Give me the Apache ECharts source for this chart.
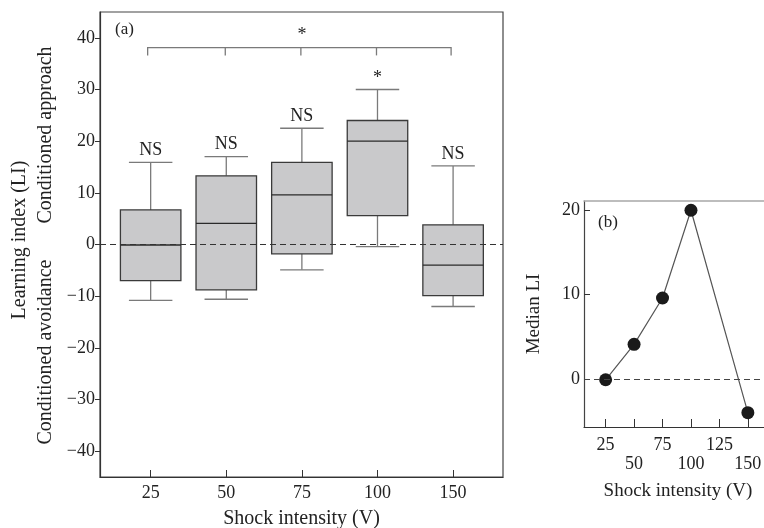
<!DOCTYPE html>
<html>
<head>
<meta charset="utf-8">
<script src="https://cdn.jsdelivr.net/npm/echarts@6/dist/echarts.min.js"></script>
<style>
  html, body { margin: 0; padding: 0; background: #fff; }
  #chart { width: 764px; height: 528px; }
</style>
</head>
<body>
<div id="chart"></div>
<script>
// Shock intensity groups (V)
const categories = ['25', '50', '75', '100', '150'];
const volts = [25, 50, 75, 100, 150];

// Learning index distribution per group
const whiskerLow  = [-10.8, -10.6, -4.9, -0.4, -12.0];
const q1          = [-7.0, -8.8, -1.8, 5.6, -9.9];
const median      = [-0.1, 4.1, 9.6, 20.0, -4.0];
const q3          = [6.7, 13.3, 15.9, 24.0, 3.8];
const whiskerHigh = [15.9, 17.0, 22.5, 30.0, 15.2];
const groupNotes  = ['NS', 'NS', 'NS', '*', 'NS'];

// Overall comparison bracket across groups
const bracketGroups = [0, 1, 2, 3, 4];
const bracketLevel = 38.1;
const bracketDrop = 36.6;
const bracketStarLevel = 40.8;

// Axis ticks
const liTicks = [-40, -30, -20, -10, 0, 10, 20, 30, 40];
const medianTicks = [0, 10, 20];
const voltTicksLow = [25, 75, 125];
const voltTicksHigh = [50, 100, 150];
const voltTicks = [25, 50, 75, 100, 125, 150];

const FONT = '"Liberation Serif", "Times New Roman", serif';
const INK = '#222';

const fmtMinus = v => (v < 0 ? '\u2212' + Math.abs(v) : String(v));

const boxData = categories.map((c, i) => [i, whiskerLow[i], q1[i], median[i], q3[i], whiskerHigh[i]]);

const chart = echarts.init(document.getElementById('chart'), null, { renderer: 'canvas' });

const option = {
  animation: false,
  backgroundColor: '#fff',
  textStyle: { fontFamily: FONT, color: INK },
  grid: [
    { left: 100, top: 12, width: 403, height: 465, outerBoundsMode: 'none', containLabel: false,
      show: true, borderColor: '#444', borderWidth: 1.2, backgroundColor: 'transparent' },
    { left: 584, top: 201, width: 198, height: 226, outerBoundsMode: 'none', containLabel: false }
  ],
  xAxis: [
    {
      gridIndex: 0, type: 'value', min: -0.67, max: 4.66,
      name: 'Shock intensity (V)', nameLocation: 'middle', nameGap: 32,
      nameTextStyle: { fontFamily: FONT, fontSize: 20, color: INK },
      axisLine: { onZero: false, lineStyle: { color: '#333', width: 1.2 } },
      axisTick: { inside: true, length: 7, customValues: [0, 1, 2, 3, 4], lineStyle: { color: '#333' } },
      axisLabel: { customValues: [0, 1, 2, 3, 4], formatter: v => categories[Math.round(v)], fontFamily: FONT, fontSize: 18, color: INK, margin: 7 },
      splitLine: { show: false }
    },
    {
      gridIndex: 1, type: 'value', min: 6, max: 180,
      name: 'Shock intensity (V)', nameLocation: 'middle', nameGap: 55,
      nameTextStyle: { fontFamily: FONT, fontSize: 19, color: INK, padding: [0, 10, 0, 0] },
      axisLine: { onZero: false, lineStyle: { color: '#333', width: 1.2 } },
      axisTick: { inside: true, length: 8, customValues: voltTicks, lineStyle: { color: '#333' } },
      axisLabel: { customValues: voltTicksLow, fontFamily: FONT, fontSize: 18, color: INK, margin: 9 },
      splitLine: { show: false }
    },
    {
      gridIndex: 1, type: 'value', min: 6, max: 180, position: 'bottom',
      axisLine: { show: false, onZero: false }, axisTick: { show: false },
      axisLabel: { customValues: voltTicksHigh, fontFamily: FONT, fontSize: 18, color: INK, margin: 28 },
      splitLine: { show: false }
    },
    {
      gridIndex: 1, type: 'value', min: 6, max: 180, position: 'top',
      axisLine: { onZero: false, lineStyle: { color: '#a8a8a8', width: 1.5 } },
      axisTick: { show: false }, axisLabel: { show: false }, splitLine: { show: false }
    }
  ],
  yAxis: [
    {
      gridIndex: 0, type: 'value', min: -45, max: 45,
      axisLine: { onZero: false, lineStyle: { color: '#333', width: 1.2 } },
      axisTick: { inside: false, length: 5, customValues: liTicks, lineStyle: { color: '#333' } },
      axisLabel: { customValues: liTicks, formatter: fmtMinus, fontFamily: FONT, fontSize: 18, color: INK, margin: 5 },
      splitLine: { show: false }
    },
    {
      gridIndex: 1, type: 'value', min: -5.7, max: 21.1,
      name: 'Median LI', nameLocation: 'middle', nameGap: 40,
      nameTextStyle: { fontFamily: FONT, fontSize: 19, color: INK },
      axisLine: { onZero: false, lineStyle: { color: '#444', width: 1.2 } },
      axisTick: { inside: true, length: 6, customValues: medianTicks, lineStyle: { color: '#333' } },
      axisLabel: { customValues: medianTicks, formatter: fmtMinus, fontFamily: FONT, fontSize: 18, color: INK, margin: 4 },
      splitLine: { show: false }
    }
  ],
  graphic: [
    { type: 'text', x: 20, y: 240, rotation: Math.PI / 2, z: 10,
      style: { text: 'Learning index (LI)', font: '20px ' + FONT, fill: INK, align: 'center', verticalAlign: 'middle' } },
    { type: 'text', x: 46, y: 135, rotation: Math.PI / 2, z: 10,
      style: { text: 'Conditioned approach', font: '20px ' + FONT, fill: INK, align: 'center', verticalAlign: 'middle' } },
    { type: 'text', x: 46, y: 352, rotation: Math.PI / 2, z: 10,
      style: { text: 'Conditioned avoidance', font: '20px ' + FONT, fill: INK, align: 'center', verticalAlign: 'middle' } },
    { type: 'text', x: 115, y: 30, z: 10,
      style: { text: '(a)', font: '17px ' + FONT, fill: INK, align: 'left', verticalAlign: 'middle' } },
    { type: 'text', x: 598, y: 223, z: 10,
      style: { text: '(b)', font: '17px ' + FONT, fill: INK, align: 'left', verticalAlign: 'middle' } }
  ],
  series: [
    {
      type: 'custom',
      xAxisIndex: 0, yAxisIndex: 0,
      data: boxData,
      renderItem: function (params, api) {
        const i = api.value(0);
        const lo = api.coord([i, api.value(1)]);
        const b1 = api.coord([i, api.value(2)]);
        const md = api.coord([i, api.value(3)]);
        const b3 = api.coord([i, api.value(4)]);
        const hi = api.coord([i, api.value(5)]);
        const unit = api.size([1, 0])[0];
        const bw = unit * 0.8 / 2;
        const cw = unit * 0.575 / 2;
        const x = hi[0];
        const whisk = { stroke: '#7a7a7a', lineWidth: 1.3 };
        const note = groupNotes[params.dataIndex];
        const isStar = note === '*';
        return {
          type: 'group',
          children: [
            { type: 'line', shape: { x1: x, y1: hi[1], x2: x, y2: b3[1] }, style: whisk },
            { type: 'line', shape: { x1: x, y1: lo[1], x2: x, y2: b1[1] }, style: whisk },
            { type: 'line', shape: { x1: x - cw, y1: hi[1], x2: x + cw, y2: hi[1] }, style: whisk },
            { type: 'line', shape: { x1: x - cw, y1: lo[1], x2: x + cw, y2: lo[1] }, style: whisk },
            { type: 'rect', shape: { x: x - bw, y: b3[1], width: bw * 2, height: b1[1] - b3[1] },
              style: { fill: '#c9c9cb', stroke: '#3a3a3a', lineWidth: 1.3 } },
            { type: 'line', shape: { x1: x - bw, y1: md[1], x2: x + bw, y2: md[1] }, style: { stroke: '#2a2a2a', lineWidth: 1.3 } },
            { type: 'text', x: x, y: isStar ? hi[1] - 11 : hi[1] - 3,
              style: { text: note, font: '18px ' + FONT, fill: INK, align: 'center', verticalAlign: isStar ? 'middle' : 'bottom' } }
          ]
        };
      },
      z: 3
    },
    {
      type: 'custom',
      xAxisIndex: 0, yAxisIndex: 0,
      data: [[bracketGroups[0], bracketGroups[bracketGroups.length - 1]]],
      renderItem: function (params, api) {
        const top = bracketGroups.map(g => api.coord([g, bracketLevel]));
        const drop = api.coord([0, bracketDrop])[1];
        const style = { stroke: '#7a7a7a', lineWidth: 1.3, fill: null };
        const first = top[0], last = top[top.length - 1];
        const children = [
          { type: 'polyline', shape: { points: [[first[0] - 3, drop], [first[0] - 3, first[1]], [last[0] - 2, last[1]], [last[0] - 2, drop]] }, style: style }
        ];
        for (let k = 1; k < top.length - 1; k++) {
          children.push({ type: 'line', shape: { x1: top[k][0] - 1, y1: top[k][1], x2: top[k][0] - 1, y2: drop }, style: style });
        }
        const mid = bracketGroups[Math.floor(bracketGroups.length / 2)];
        const s = api.coord([mid, bracketStarLevel]);
        children.push({ type: 'text', x: s[0], y: s[1] + 2, style: { text: '*', font: '18px ' + FONT, fill: INK, align: 'center', verticalAlign: 'middle' } });
        return { type: 'group', children: children };
      },
      // zero reference line, kept beneath the boxes
      markLine: {
        silent: true, symbol: 'none', animation: false,
        label: { show: false },
        lineStyle: { color: '#333', type: [6, 4], width: 1 },
        data: [{ yAxis: 0 }]
      },
      z: 2
    },
    {
      type: 'line',
      xAxisIndex: 1, yAxisIndex: 1,
      data: volts.map((v, i) => [v, median[i]]),
      symbol: 'circle', symbolSize: 13,
      itemStyle: { color: '#1a1a1a' },
      lineStyle: { color: '#555', width: 1.2 },
      markLine: {
        silent: true, symbol: 'none', animation: false,
        label: { show: false },
        lineStyle: { color: '#444', type: [6, 4], width: 1 },
        data: [{ yAxis: 0 }]
      },
      z: 4
    }
  ]
};

chart.setOption(option);
</script>
</body>
</html>
